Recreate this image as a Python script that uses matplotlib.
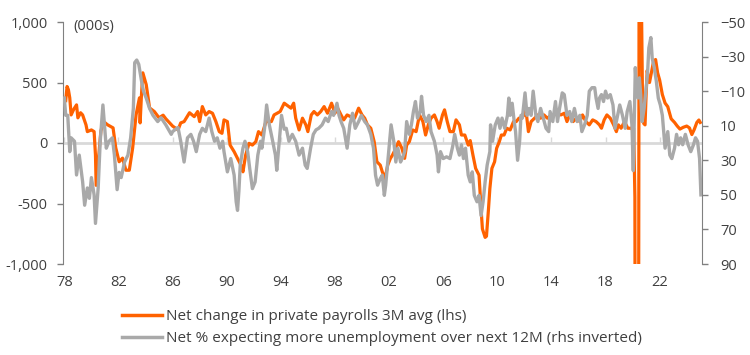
import matplotlib
matplotlib.use("Agg")
import matplotlib.pyplot as plt
from matplotlib.lines import Line2D

# ---------------- data ----------------
payroll_years = [
    1978.1, 1978.2, 1978.3, 1978.4, 1978.5, 1978.7, 1978.9, 1979.0, 1979.2, 1979.35,
    1979.6, 1979.7, 1980.0, 1980.2, 1980.3, 1980.35, 1980.5, 1980.7, 1980.9, 1981.2,
    1981.6, 1981.8, 1982.05, 1982.3, 1982.55, 1982.8, 1983.05, 1983.3, 1983.55, 1983.6,
    1983.7, 1983.8, 1984.05, 1984.3, 1984.65, 1985.0, 1985.3, 1985.5, 1985.75, 1986.0,
    1986.4, 1986.6, 1986.85, 1987.25, 1987.6, 1987.85, 1988.0, 1988.2, 1988.45, 1988.7,
    1988.95, 1989.2, 1989.45, 1989.65, 1989.8, 1990.05, 1990.25, 1990.55, 1990.8, 1991.05,
    1991.2, 1991.4, 1991.65, 1991.9, 1992.15, 1992.35, 1992.6, 1992.9, 1993.3, 1993.5,
    1993.95, 1994.25, 1994.5, 1994.75, 1994.95, 1995.1, 1995.35, 1995.6, 1995.85, 1996.0,
    1996.25, 1996.45, 1996.7, 1996.95, 1997.2, 1997.45, 1997.75, 1998.0, 1998.2, 1998.45,
    1998.65, 1998.9, 1999.15, 1999.45, 1999.75, 2000.0, 2000.2, 2000.4, 2000.65, 2000.9,
    2001.1, 2001.35, 2001.5, 2001.7, 2001.9, 2002.1, 2002.25, 2002.5, 2002.7, 2002.95,
    2003.15, 2003.3, 2003.5, 2003.75, 2004.0, 2004.25, 2004.5, 2004.7, 2004.9, 2005.1,
    2005.35, 2005.55, 2005.7, 2005.95, 2006.1, 2006.3, 2006.5, 2006.75, 2006.95, 2007.2,
    2007.35, 2007.6, 2007.85, 2008.0, 2008.2, 2008.4, 2008.65, 2008.8, 2008.9, 2009.1,
    2009.2, 2009.35, 2009.45, 2009.6, 2009.8, 2009.95, 2010.15, 2010.3, 2010.5, 2010.7,
    2010.95, 2011.2, 2011.4, 2011.6, 2011.75, 2012.0, 2012.1, 2012.3, 2012.5, 2012.75,
    2013.0, 2013.2, 2013.45, 2013.7, 2014.0, 2014.2, 2014.45, 2014.7, 2014.95, 2015.15,
    2015.35, 2015.6, 2015.85, 2016.1, 2016.3, 2016.55, 2016.8, 2017.05, 2017.3, 2017.55,
    2017.7, 2017.9, 2018.1, 2018.35, 2018.6, 2018.8, 2018.95, 2019.15, 2019.4, 2019.65,
    2019.9, 2020.0, 2020.08, 2020.17, 2020.25, 2020.33, 2020.42, 2020.5, 2020.58, 2020.67,
    2020.75, 2020.83, 2020.92, 2021.0, 2021.08, 2021.17, 2021.25, 2021.42, 2021.55, 2021.7,
    2021.85, 2022.0, 2022.2, 2022.4, 2022.6, 2022.85, 2023.1, 2023.3, 2023.5, 2023.75,
    2024.0, 2024.2, 2024.38, 2024.55, 2024.75, 2024.9, 2025.0,
]
payroll_3m_avg = [
    350, 467, 440, 373, 232, 280, 315, 208, 250, 232,
    150, 94, 108, 94, -100, -350, -155, 100, 177, 150,
    125, -40, -155, -125, -225, -225, -40, 232, 373, 166,
    398, 580, 483, 290, 260, 208, 230, 200, 170, 140,
    108, 166, 177, 250, 218, 260, 177, 301, 232, 260,
    246, 177, 94, 80, 191, 177, -17, -72, -127, -183,
    -238, -100, -3, -17, 11, 94, 66, 177, 177, 232,
    260, 329, 308, 288, 329, 205, 108, 205, 150, 94,
    232, 260, 232, 260, 301, 246, 329, 246, 288, 232,
    191, 232, 218, 205, 288, 232, 205, 150, 122, 11,
    -155, -183, -238, -294, -183, -127, -100, -44, 11, -44,
    -127, -17, 11, 108, 94, 232, 177, 66, 150, 205,
    232, 177, 122, 232, 274, 177, 94, 94, 191, 150,
    66, 66, -17, 20, -100, -210, -266, -544, -710, -780,
    -770, -544, -377, -210, -155, -44, 11, 66, 66, 122,
    108, 177, 177, 205, 205, 232, 288, 94, 177, 205,
    232, 205, 232, 205, 232, 232, 246, 232, 246, 177,
    232, 177, 205, 177, 232, 177, 150, 191, 177, 150,
    122, 191, 232, 205, 150, 94, 150, 122, 177, 122,
    122, 110, 120, -450, -6900, -5900, -3900, 3200, 2400, 1000,
    200, 160, 150, 400, 600, 520, 500, 600, 675, 690,
    580, 520, 400, 330, 300, 200, 170, 140, 115, 130,
    140, 125, 70, 110, 170, 190, 170,
]

unemp_years = [
    1978.0, 1978.1, 1978.25, 1978.4, 1978.5, 1978.75, 1978.9, 1979.1, 1979.35, 1979.5,
    1979.7, 1979.85, 1980.0, 1980.2, 1980.3, 1980.5, 1980.65, 1980.85, 1981.0, 1981.1,
    1981.3, 1981.55, 1981.7, 1981.9, 1982.05, 1982.2, 1982.45, 1982.7, 1982.9, 1983.1,
    1983.2, 1983.35, 1983.5, 1983.7, 1983.85, 1984.05, 1984.3, 1984.55, 1984.9, 1985.15,
    1985.5, 1985.75, 1985.9, 1986.0, 1986.4, 1986.6, 1986.85, 1987.1, 1987.35, 1987.55,
    1987.75, 1988.0, 1988.2, 1988.45, 1988.7, 1988.9, 1989.1, 1989.3, 1989.5, 1989.7,
    1989.8, 1990.05, 1990.3, 1990.55, 1990.7, 1990.8, 1990.9, 1991.0, 1991.2, 1991.35,
    1991.55, 1991.7, 1991.9, 1992.1, 1992.3, 1992.5, 1992.6, 1992.8, 1992.95, 1993.15,
    1993.4, 1993.6, 1993.7, 1993.95, 1994.05, 1994.25, 1994.4, 1994.6, 1994.85, 1995.1,
    1995.35, 1995.6, 1995.8, 1995.95, 1996.2, 1996.4, 1996.6, 1996.8, 1997.05, 1997.3,
    1997.5, 1997.75, 1997.9, 1998.15, 1998.3, 1998.45, 1998.65, 1998.9, 1999.1, 1999.3,
    1999.5, 1999.75, 1999.95, 2000.2, 2000.4, 2000.65, 2000.85, 2001.0, 2001.15, 2001.35,
    2001.5, 2001.65, 2001.75, 2001.95, 2002.15, 2002.35, 2002.5, 2002.65, 2002.85, 2003.0,
    2003.15, 2003.3, 2003.5, 2003.65, 2003.8, 2003.95, 2004.1, 2004.3, 2004.4, 2004.55,
    2004.75, 2004.95, 2005.1, 2005.35, 2005.55, 2005.65, 2005.8, 2006.0, 2006.25, 2006.5,
    2006.7, 2006.85, 2007.05, 2007.2, 2007.35, 2007.5, 2007.65, 2007.85, 2008.0, 2008.15,
    2008.3, 2008.5, 2008.65, 2008.8, 2008.95, 2009.1, 2009.25, 2009.45, 2009.5, 2009.65,
    2009.85, 2010.05, 2010.2, 2010.35, 2010.55, 2010.75, 2010.85, 2010.95, 2011.1, 2011.25,
    2011.35, 2011.5, 2011.65, 2011.75, 2011.85, 2012.05, 2012.2, 2012.35, 2012.5, 2012.65,
    2012.85, 2013.0, 2013.2, 2013.4, 2013.6, 2013.8, 2013.9, 2014.1, 2014.3, 2014.45,
    2014.6, 2014.8, 2014.95, 2015.15, 2015.35, 2015.5, 2015.7, 2015.9, 2016.1, 2016.25,
    2016.45, 2016.65, 2016.8, 2017.0, 2017.2, 2017.3, 2017.45, 2017.55, 2017.7, 2017.85,
    2018.0, 2018.15, 2018.35, 2018.55, 2018.7, 2018.85, 2019.05, 2019.25, 2019.45, 2019.6,
    2019.8, 2019.95, 2020.05, 2020.2, 2020.25, 2020.4, 2020.5, 2020.6, 2020.7, 2020.85,
    2021.1, 2021.2, 2021.35, 2021.45, 2021.6, 2021.75, 2021.9, 2022.05, 2022.2, 2022.4,
    2022.6, 2022.75, 2022.9, 2023.1, 2023.25, 2023.4, 2023.55, 2023.7, 2023.9, 2024.1,
    2024.3, 2024.5, 2024.65, 2024.8, 2024.95, 2025.05,
]
unemp_net_pct = [
    -6, 4, 4, 25, 17, 19, 38.5, 27, 42.4, 56,
    46, 52, 40, 50, 66.5, 46, 19, -2, 13.4, 23,
    19, 17, 27, 47, 37, 40, 31, 27, 17, 0,
    -26.5, -28, -25.5, -16, -10, -6, 0, 4, 7.6, 5.4,
    9.5, 13, 15, 13.4, 11, 19, 31, 17, 15, 19,
    25, 15, 11.5, 13.4, 5.6, 13.4, 19, 17, 23, 19,
    25, 36.7, 29, 38.6, 54, 59, 48, 32.8, 23, 19,
    25, 34.7, 46.4, 42.5, 27, 19, 23, 11.5, -2, 9.5,
    19, 27, 35.8, 13.4, 4, 12, 11.5, 19, 15, 19,
    27, 23, 32.8, 34.7, 23, 15, 12.4, 11.5, 9.5, 5.6,
    7.6, 1.8, 4, -3, 4, 7.6, 11.5, 23, 9.5, 2.8,
    11.5, 7.6, 4, 7.6, 9.5, 15, 23, 38.6, 44.4, 40.6,
    38.6, 50.3, 44.4, 27, 9.5, 19, 31, 23, 31, 28.4,
    25, 7.6, 15, 9.5, 1.8, -4, 5.6, 1.8, -7, 4,
    7.6, 4, 13.4, 19, 27, 36.7, 25, 29, 28, 29,
    22, 15, 23, 27, 21, 29, 23, 38.6, 42.5, 36.7,
    50.3, 54, 50.3, 62, 54, 42.5, 32.8, 25, 9.5, 19,
    9.5, 5.6, 11.5, 5.6, 11.5, 4, -6, 4, -3, 7.6,
    13.4, 30, 19, 4, 5.6, -9, 4, 0, 4, -10,
    4, 7.6, 0, 5.6, 11.5, 13.4, 1.8, 7.6, -4, 7.6,
    0, -9, -8, 4, 1.8, 7.6, 0, 7.6, 4, 13.4,
    9.5, 4, -10, -12, -12, -6, 0, -6, -8, -4,
    -10, -6, -8, -2, 11.5, 5.6, -2, 4, 11.5, 1.8,
    -4, 9.5, 36, -23.6, -16, -6, -17.7, -8, 7.6, 0,
    -19.5, -35, -41, -29, -23.6, -16, -6, -2, 4, 23,
    13.4, 27, 29, 23, 15, 21, 17, 21, 15, 21,
    25, 21, 17, 19, 29, 50,
]

x_ticks = [1978, 1982, 1986, 1990, 1994, 1998, 2002, 2006, 2010, 2014, 2018, 2022]
x_tick_labels = ["78", "82", "86", "90", "94", "98", "02", "06", "10", "14", "18", "22"]
lhs_ticks = [-1000, -500, 0, 500, 1000]
lhs_tick_labels = ["-1,000", "-500", "0", "500", "1,000"]
rhs_ticks = [-50, -30, -10, 10, 30, 50, 70, 90]

series_labels = [
    "Net change in private payrolls 3M avg (lhs)",
    "Net % expecting more unemployment over next 12M (rhs inverted)",
]

# ---------------- style ----------------
ORANGE = "#FF6200"
GREY = "#A9A9A9"
TXT = "#404040"
SPINE = "#808080"
ZERO = "#D9D9D9"
plt.rcParams["font.family"] = ["Open Sans", "DejaVu Sans"]
FS = 10.5
LFS = 11

fig = plt.figure(figsize=(7.5, 3.55), dpi=100)
L, R, T, B = 63, 702, 22, 264
ax = fig.add_axes([L / 750, 1 - B / 355, (R - L) / 750, (B - T) / 355])
ax.set_xlim(1977.9, 2025.13)
ax.set_ylim(-1000, 1000)

ax.axhline(0, color=ZERO, lw=2, zorder=1)
ax.plot(payroll_years, payroll_3m_avg, color=ORANGE, lw=2.3, zorder=3,
        solid_joinstyle="round")

ax2 = ax.twinx()
ax2.set_ylim(90, -50)
ax2.plot(unemp_years, unemp_net_pct, color=GREY, lw=2.4, zorder=3,
         solid_joinstyle="round")

for a in (ax, ax2):
    a.spines["top"].set_visible(False)
    a.spines["bottom"].set_visible(False)
    a.patch.set_visible(False)
ax.spines["right"].set_visible(False)
ax2.spines["left"].set_visible(False)
ax.spines["left"].set_color(SPINE)
ax2.spines["right"].set_color(SPINE)

ax.set_yticks(lhs_ticks)
ax.set_yticklabels(lhs_tick_labels)
ax.tick_params(axis="y", direction="out", length=4, width=1, color=SPINE,
               labelsize=FS, labelcolor=TXT, pad=7)
ax2.set_yticks(rhs_ticks)
ax2.tick_params(axis="y", direction="out", length=4, width=1, color=SPINE,
                labelsize=FS, labelcolor=TXT, pad=9)

ax.set_xticks(x_ticks)
ax.set_xticklabels(x_tick_labels)
ax.tick_params(axis="x", length=0, labelsize=FS, labelcolor=TXT, pad=8)

sec = ax.secondary_xaxis(0.5)
sec.set_xticks(x_ticks)
sec.tick_params(axis="x", direction="out", length=4, width=1, color=ZERO,
                labelbottom=False, labeltop=False)
sec.spines["bottom"].set_visible(False)
sec.spines["top"].set_visible(False)

ax.text(0.016, 0.983, "(000s)", transform=ax.transAxes, ha="left", va="center",
        fontsize=FS, color=TXT)

handles = [Line2D([], [], color=ORANGE, lw=2.5), Line2D([], [], color=GREY, lw=2.5)]
leg = fig.legend(handles, series_labels, loc="upper left",
                 bbox_to_anchor=(122 / 750, 1 - 309 / 355), frameon=False,
                 fontsize=LFS, handlelength=2.6, handletextpad=0.3,
                 borderpad=0, borderaxespad=0, labelspacing=0.45)
for t in leg.get_texts():
    t.set_color(TXT)

fig.savefig("out.png", dpi=100)
